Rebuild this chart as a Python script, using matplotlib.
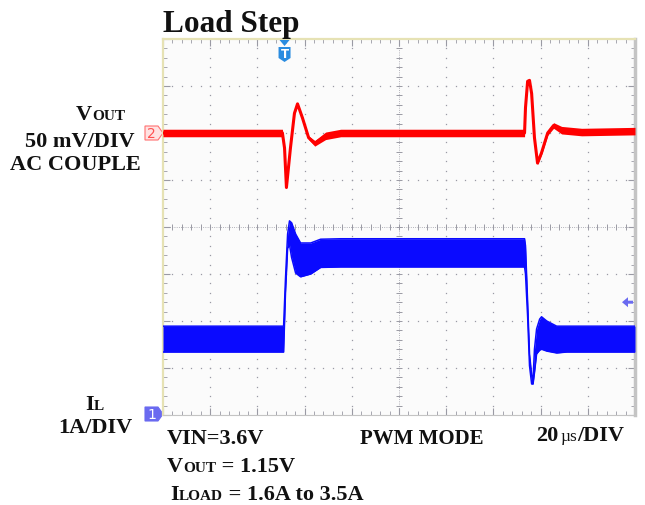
import matplotlib
matplotlib.use("Agg")
import matplotlib.pyplot as plt
import matplotlib.transforms as mtransforms
from matplotlib.patches import Polygon
from matplotlib.ticker import MultipleLocator
import numpy as np

W, H = 645, 506
SERIF = "Liberation Serif"
RED = "#ff0000"
BLUE = "#0a0aff"
GRID = "#9a9aa4"

# ---- data (20 us/div, Vout 50 mV/div, IL 1 A/div) ----
RED_T = [0, 50.6, 51.5, 52.3, 54.0, 55.7, 57.0, 59.1, 61.7, 64.3, 68.9, 75.3,
         153.2, 153.6, 154.5, 155.3, 156.2, 157.4, 158.7, 160.4, 163.0, 165.5,
         168.9, 177.4, 200]
RED_MV = [0, 0, -16, -58, -16, 21, 31, 16, -5, -11, -3, 0,
          0, 27, 55, 56, 42, -5, -32, -21, 0, 8, 3, 1, 2]
RED_HW = [4, 4, 1.5, 1.5, 1.5, 1.5, 1.5, 1.5, 2, 3, 4, 4,
          4, 1.5, 1.5, 1.5, 1.5, 1.5, 1.5, 2, 2.5, 3, 4, 4, 4]

BLUE_T = [0, 50.6, 51.1, 51.9, 52.8, 53.6, 54.5, 56.2, 58.3, 62.6, 66.8, 75.3,
          153.2, 153.6, 154.5, 155.3, 156.2, 156.8, 157.4, 158.3, 159.6, 160.4,
          162.6, 166.8, 171.1, 200]
BLUE_HI = [1.89, 1.89, 1.89, 2.9, 3.85, 4.13, 4.09, 3.85, 3.66, 3.66, 3.74, 3.75,
           3.75, 3.60, 2.40, 1.30, 0.85, 0.75, 1.40, 1.83, 2.04, 2.09,
           2.00, 1.89, 1.89, 1.89]
BLUE_LO = [1.34, 1.34, 1.34, 2.6, 3.55, 3.62, 3.35, 3.02, 2.94, 3.00, 3.14, 3.15,
           3.15, 3.00, 2.10, 1.05, 0.66, 0.66, 0.90, 1.30, 1.38, 1.40,
           1.36, 1.32, 1.34, 1.34]

CH2_POS = 6.0       # divisions, Vout zero level
CH1_POS = 0.0       # divisions, IL ground level
MV_PER_DIV = 50
TRIG_T = 51.5       # us
TRIG_LEVEL = 2.4    # A

fig = plt.figure(figsize=(W / 100, H / 100), dpi=100)
ax = fig.add_axes([163 / W, 1 - 416 / H, 472 / W, 376 / H])
ax.set_facecolor("#fbfbfb")
ax.set_xlim(0, 200)
ax.set_ylim(0, 8)

# ---- graticule ----
ax.xaxis.set_major_locator(MultipleLocator(20))
ax.xaxis.set_minor_locator(MultipleLocator(4))
ax.yaxis.set_major_locator(MultipleLocator(1))
ax.yaxis.set_minor_locator(MultipleLocator(0.2))
ax.tick_params(which="both", direction="in", top=True, right=True,
               labelbottom=False, labelleft=False, color=GRID)
ax.tick_params(which="major", length=5, width=0.8)
ax.tick_params(which="minor", length=3, width=0.6)
for side in ("top", "left"):
    ax.spines[side].set_color("#e6e2b4")
    ax.spines[side].set_linewidth(1.6)
ax.spines["bottom"].set_color("#c4c4c4")
ax.spines["right"].set_color("#c4c4c4")
ax.spines["right"].set_linewidth(2.5)

ys = np.arange(0, 8.01, 0.2)
xs = np.arange(0, 200.1, 4)
for i in range(1, 10):
    if i == 5:
        continue
    ax.plot(np.full_like(ys, 20 * i), ys, ls="none", marker="s", ms=0.9,
            color=GRID, mew=0, zorder=1)
for j in range(1, 8):
    if j == 4:
        continue
    ax.plot(xs, np.full_like(xs, j), ls="none", marker="s", ms=0.9,
            color=GRID, mew=0, zorder=1)
# centre cross-hair with minor ticks
ax.plot([100, 100], [0, 8], ls=":", lw=0.6, color=GRID, zorder=1)
ax.plot([0, 200], [4, 4], ls=":", lw=0.6, color=GRID, zorder=1)
ax.plot(np.full_like(ys, 100), ys, ls="none", marker="_", ms=4, mew=0.7,
        color=GRID, zorder=1)
ax.plot(xs, np.full_like(xs, 4), ls="none", marker="|", ms=4, mew=0.7,
        color=GRID, zorder=1)

# ---- traces ----
rt = np.array(RED_T)
rc = CH2_POS + np.array(RED_MV) / MV_PER_DIV
rh = np.array(RED_HW) / MV_PER_DIV
ax.fill_between(rt, rc - rh, rc + rh, color=RED, lw=0, zorder=3)
ax.plot(rt, rc, color=RED, lw=2.2, zorder=3)

bt = np.array(BLUE_T)
ax.fill_between(bt, CH1_POS + np.array(BLUE_LO), CH1_POS + np.array(BLUE_HI),
                color=BLUE, lw=0, zorder=3)
ax.plot(bt, CH1_POS + np.array(BLUE_HI), color=BLUE, lw=1.1, zorder=3)
ax.plot(bt, CH1_POS + np.array(BLUE_LO), color=BLUE, lw=1.1, zorder=3)


# ---- scope markers (shapes in pixel offsets from a data anchor) ----
def anchored(x, y, base):
    return fig.dpi_scale_trans + mtransforms.ScaledTranslation(x, y, base)


def px(pts):
    return [(a / 100, b / 100) for a, b in pts]


tag = [(-18, 7), (-5, 7), (0, 0), (-5, -7), (-18, -7)]
tr2 = anchored(0, CH2_POS, mtransforms.blended_transform_factory(ax.transAxes, ax.transData))
ax.add_patch(Polygon(px(tag), closed=True, fc="#ffe2e2", ec="#ff7070", lw=0.8,
                     transform=tr2, clip_on=False))
ax.text(-0.115, 0, "2", transform=tr2, color="#ff5050", fontsize=10,
        ha="center", va="center", family="DejaVu Sans")
tr1 = anchored(0, CH1_POS, mtransforms.blended_transform_factory(ax.transAxes, ax.transData))
ax.add_patch(Polygon(px([(a, b + 1) for a, b in tag]), closed=True, fc="#6a6af0",
                     ec="#6a6af0", lw=0.8, transform=tr1, clip_on=False))
ax.text(-0.115, 0.01, "1", transform=tr1, color="white", fontsize=10,
        ha="center", va="center", family="DejaVu Sans")

trT = anchored(TRIG_T, 8, ax.transData)
ax.add_patch(Polygon(px([(-5, -1), (5, -1), (0, -7)]), closed=True, fc="#2a8ce0",
                     ec="none", transform=trT, clip_on=False, zorder=5))
ax.add_patch(Polygon(px([(-6, -8), (6, -8), (6, -19), (0, -23), (-6, -19)]),
                     closed=True, fc="#2a8ce0", ec="none", transform=trT,
                     clip_on=False, zorder=5))
ax.text(0, -0.15, "T", transform=trT, color="white", fontsize=8.5,
        fontweight="bold", ha="center", va="center", family="DejaVu Sans", zorder=6)

trL = anchored(1, TRIG_LEVEL, mtransforms.blended_transform_factory(ax.transAxes, ax.transData))
ax.add_patch(Polygon(px([(-13, 0), (-7, 5), (-7, 1.5), (-2, 1.5), (-2, -1.5),
                         (-7, -1.5), (-7, -5)]), closed=True, fc="#6a6af0",
                     ec="none", transform=trL, clip_on=False, zorder=5))


# ---- labels ----
def rich(x, y, parts):
    r = fig.canvas.get_renderer()
    for s, size, weight in parts:
        t = fig.text(x / W, 1 - y / H, s, fontsize=size, fontweight=weight,
                     family=SERIF, va="baseline", ha="left", color="#111111")
        x += t.get_window_extent(r).width + (2 if s == "20" else 0)


BIG, SC = 16, 11
rich(163, 32, [("Load Step", 22.5, "bold")])
rich(76, 120, [("V", BIG, "bold"), ("OUT", SC, "bold")])
rich(25, 147, [("50 mV/DIV", BIG, "bold")])
rich(10, 170, [("AC COUPLE", BIG, "bold")])
rich(85, 410, [("I", BIG, "bold"), ("L", SC, "bold")])
rich(58, 433, [("1A/DIV", BIG, "bold")])
rich(167, 444, [("VIN=3.6V", BIG, "bold")])
rich(360, 444, [("PWM MODE", 15, "bold")])
rich(536, 441, [("20", BIG, "bold"), ("µs", 12.5, "normal"), ("/DIV", BIG, "bold")])
rich(167, 472, [("V", BIG, "bold"), ("OUT", SC, "bold"), (" = 1.15V", BIG, "bold")])
rich(170, 500, [("I", BIG, "bold"), ("LOAD", SC, "bold"), (" = 1.6A to 3.5A", BIG, "bold")])

fig.savefig("out.png", dpi=100)
